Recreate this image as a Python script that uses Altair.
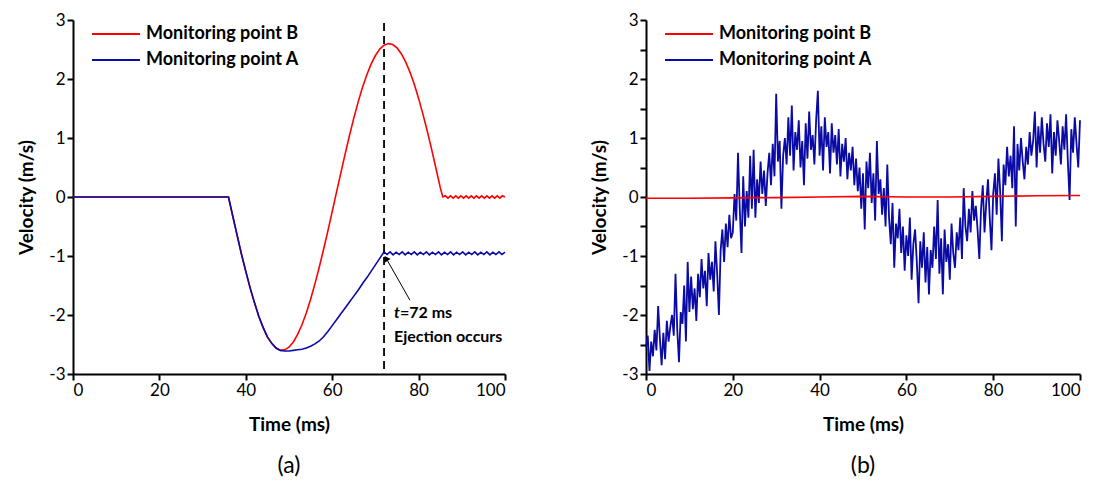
import altair as alt
import pandas as pd

FONT = "Lato"
RED = "#FF0000"
BLUE = "#0A0AA5"
B_NAME = "Monitoring point B"
A_NAME = "Monitoring point A"

# ---------------- panel (a) data ----------------
a_t = [0, 36, 37, 38, 39, 40, 41, 42, 43, 44, 45, 46, 47, 48, 49, 50, 51, 52, 53, 54,
       55, 56, 57, 58, 59, 60, 61, 62, 63, 64, 65, 66, 67, 68, 69, 70, 71, 72]
a_v = [0, 0, -0.33, -0.65, -0.97, -1.26, -1.54, -1.79, -2.02, -2.21, -2.37, -2.48, -2.56, -2.6,
       -2.61, -2.61, -2.60, -2.59, -2.58, -2.56, -2.53, -2.49, -2.44, -2.37, -2.28, -2.18,
       -2.08, -1.98, -1.88, -1.78, -1.68, -1.58, -1.47, -1.37, -1.26, -1.15, -1.04, -0.93]
a_ripple_v = [-0.975, -0.93, -0.98, -0.935, -0.975, -0.93, -0.98, -0.935, -0.975, -0.93,
              -0.98, -0.935, -0.975, -0.93, -0.98, -0.935, -0.975, -0.93, -0.98, -0.935,
              -0.975, -0.93, -0.98, -0.935, -0.975, -0.93, -0.98, -0.935, -0.975, -0.93,
              -0.98, -0.935, -0.975, -0.93, -0.98, -0.935, -0.975, -0.93, -0.975, -0.935]
a_ripple_start, a_ripple_step = 72.0, 0.7

b_t = [0, 36, 37, 38, 39, 40, 41, 42, 43, 44, 45, 46, 47, 48, 49, 50, 51, 52, 53, 54,
       55, 56, 57, 58, 59, 60, 61, 62, 63, 64, 65, 66, 67, 68, 69, 70, 71, 72, 73, 74,
       75, 76, 77, 78, 79, 80, 81, 82, 83, 84, 85, 85.6]
b_v = [0, 0, -0.33, -0.65, -0.97, -1.26, -1.54, -1.79, -2.02, -2.21, -2.37, -2.48, -2.56, -2.6,
       -2.59, -2.545, -2.457, -2.329, -2.166, -1.965, -1.733, -1.473, -1.191, -0.889, -0.573,
       -0.247, 0.082, 0.41, 0.732, 1.042, 1.336, 1.608, 1.855, 2.068, 2.252, 2.398, 2.506,
       2.573, 2.6, 2.584, 2.527, 2.429, 2.291, 2.117, 1.911, 1.671, 1.405, 1.119, 0.812,
       0.492, 0.163, 0.0]
b_ripple_v = [0.02, -0.02, 0.02, -0.02, 0.02, -0.02, 0.02, -0.02, 0.02, -0.02, 0.02, -0.02,
              0.02, -0.02, 0.02, -0.02, 0.02, -0.02, 0.02, -0.02, 0.02, -0.02, 0.02, 0.0]
b_ripple_start, b_ripple_step = 85.6, 0.6

ejection_t = 72
note_line1_t, note_line1_v = 74.3, -1.97
note_line2_t, note_line2_v = 74.3, -2.38
arrow_t = [78.0, 72.5]
arrow_v = [-1.75, -1.04]

# ---------------- panel (b) data ----------------
noise_step = 0.4
noise_v = [
    -2.55, -2.35, -2.95, -2.45, -2.7, -2.25, -2.6, -1.85, -2.4, -2.85,
    -2.3, -2.75, -2.1, -2.45, -2.2, -2.0, -2.35, -1.3, -2.25, -2.8,
    -1.95, -2.15, -1.5, -2.45, -1.1, -1.95, -1.35, -1.9, -1.55, -2.1,
    -1.3, -1.7, -1.05, -1.55, -1.25, -1.85, -0.95, -1.4, -1.1, -1.6,
    -0.75, -1.3, -2.0, -0.9, -0.55, -1.1, -0.45, -0.85, -0.3, -0.7,
    -0.6, 0.05, -0.4, 0.75, -0.2, -0.95, 0.35, -0.5, 0.1, -0.35,
    0.7, -0.2, 0.8, -0.35, 0.3, -0.1, 0.6, 0.05, 0.45, -0.15,
    0.4, 0.75, 0.2, 0.9, 0.35, 1.75, 0.6, 0.95, -0.2, 0.7,
    1.0, 0.55, 1.35, 0.7, 1.55, 0.45, 1.1, 0.8, 1.3, 0.5,
    0.95, 0.2, 1.25, 0.65, 1.45, 0.8, 1.05, 0.55, 1.3, 1.8,
    0.7, 1.2, 0.45, 1.35, 0.85, 1.1, 0.4, 1.25, 0.75, 1.05,
    0.55, 1.15, 0.35, 0.9, 0.6, 1.0, 0.3, 0.75, 0.45, 0.85,
    0.2, 0.65, 0.1, 0.5, -0.2, 0.4, -0.55, 0.6, 0.15, 0.75,
    -0.1, 0.4, -0.4, 0.95, 0.05, 0.3, -0.3, 0.15, -0.5, 0.55,
    -0.35, -0.8, -0.1, -1.2, -0.45, -0.7, -0.2, -0.95, -0.5, -1.25,
    -0.65, -1.0, -0.35, -1.4, -0.8, -0.55, -1.1, -1.8, -0.75, -1.2,
    -0.6, -1.45, -0.85, -1.65, -0.9, -1.2, -0.5, -1.05, -0.05, -1.3,
    -0.7, -1.65, -0.55, -1.1, -0.8, -1.4, -0.45, -0.95, -1.2, -0.6,
    -0.9, -0.35, -1.05, 0.15, -0.5, -0.75, -0.2, -0.6, 0.1, -0.4,
    -0.15, -0.55, -1.05, -0.2, 0.2, -0.6, -0.1, 0.3, -0.35, -0.9,
    0.05, 0.4, -0.3, 0.65, 0.1, -0.75, 0.55, 0.2, 0.85, 0.35,
    0.7, 0.15, 1.2, -0.5, 0.9, 0.45, 1.0, 0.6, 0.3, 0.85,
    0.55, 1.1, 0.7, 0.95, 1.45, 0.5, 1.2, 0.75, 1.35, 0.9,
    0.6, 1.25, 0.85, 1.4, 0.4, 1.1, 0.7, 1.3, 0.95, 0.55,
    1.2, 0.8, 1.4, 0.6, -0.05, 1.15, 0.75, 1.35, 0.9, 0.5,
    1.3]
red_b_t = [0, 10, 20, 30, 40, 50, 60, 70, 80, 90, 100]
red_b_v = [-0.02, -0.02, -0.015, -0.01, 0.0, 0.01, 0.0, 0.0, 0.01, 0.02, 0.025]

x_ticks = [0, 20, 40, 60, 80, 100]
y_ticks = [-3, -2.5, -2, -1.5, -1, -0.5, 0, 0.5, 1, 1.5, 2, 2.5, 3]

# ---------------- tables ----------------
a_full_t = a_t + [round(a_ripple_start + (i + 1) * a_ripple_step, 2) for i in range(len(a_ripple_v))]
a_full_v = a_v + a_ripple_v
b_full_t = b_t + [round(b_ripple_start + (i + 1) * b_ripple_step, 2) for i in range(len(b_ripple_v))]
b_full_v = b_v + b_ripple_v
dfA = pd.DataFrame({"t": a_full_t, "v": a_full_v, "series": A_NAME})
dfB = pd.DataFrame({"t": b_full_t, "v": b_full_v, "series": B_NAME})
dfA2 = pd.DataFrame({"t": [round(i * noise_step, 2) for i in range(len(noise_v))],
                     "v": noise_v, "series": A_NAME})
dfB2 = pd.DataFrame({"t": red_b_t, "v": red_b_v, "series": B_NAME})

W, H = 432, 354

xenc = alt.X("t:Q", scale=alt.Scale(domain=[0, 100], nice=False, zero=False),
             axis=alt.Axis(values=x_ticks, format="d", title="Time (ms)",
                           labelPadding=2, titlePadding=17))
yenc = alt.Y("v:Q", scale=alt.Scale(domain=[-3, 3], nice=False, zero=False),
             axis=alt.Axis(values=y_ticks, title="Velocity (m/s)", labelPadding=2,
                           titlePadding=12,
                           labelExpr="datum.value % 1 === 0 ? (datum.value < 0 ? '-' + abs(datum.value) : '' + datum.value) : ''"))


def color_enc(legend_y):
    return alt.Color("series:N",
                     scale=alt.Scale(domain=[B_NAME, A_NAME], range=[RED, BLUE]),
                     legend=alt.Legend(title=None, orient="none", legendX=27, legendY=legend_y,
                                       symbolType="M-1.6,0L1.6,0", symbolSize=900,
                                       symbolStrokeWidth=1.8,
                                       labelFont=FONT, labelFontSize=18, labelFontWeight="bold",
                                       labelColor="black", labelOffset=14, rowPadding=1,
                                       symbolOffset=0))


def line_layer(df, width, legend_y):
    return alt.Chart(df).mark_line(strokeWidth=width).encode(
        x=xenc, y=yenc, color=color_enc(legend_y), order="t:Q")


# panel (a)
redA = line_layer(dfB, 1.6, -2)
blueA = line_layer(dfA, 1.6, -2)
rule = alt.Chart(pd.DataFrame({"t": [ejection_t], "v": [2.95], "v2": [-3]})).mark_rule(
    color="black", strokeWidth=1.8, strokeDash=[8, 5]).encode(x="t:Q", y="v:Q", y2="v2:Q")
arrow = alt.Chart(pd.DataFrame({"t": arrow_t, "v": arrow_v})).mark_line(
    color="black", strokeWidth=1).encode(x="t:Q", y="v:Q")
head = alt.Chart(pd.DataFrame({"t": [arrow_t[1]], "v": [arrow_v[1]]})).mark_point(
    shape="triangle-up", filled=True, color="black", size=45, angle=328, opacity=1).encode(
    x="t:Q", y="v:Q")
note_t = alt.Chart(pd.DataFrame({"t": [note_line1_t], "v": [note_line1_v]})).mark_text(
    text="t", font=FONT, fontSize=16, fontWeight="bold", fontStyle="italic", align="left",
    baseline="middle", color="black").encode(x="t:Q", y="v:Q")
note_rest = alt.Chart(pd.DataFrame({"t": [note_line1_t], "v": [note_line1_v]})).mark_text(
    text="=72 ms", font=FONT, fontSize=16, fontWeight="bold", align="left", dx=6,
    baseline="middle", color="black").encode(x="t:Q", y="v:Q")
note2 = alt.Chart(pd.DataFrame({"t": [note_line2_t], "v": [note_line2_v]})).mark_text(
    text="Ejection occurs", font=FONT, fontSize=16, fontWeight="bold", align="left",
    baseline="middle", color="black").encode(x="t:Q", y="v:Q")

panel_a = alt.layer(redA, blueA, rule, arrow, head, note_t, note_rest, note2).properties(
    width=W, height=H,
    title=alt.TitleParams("(a)", orient="bottom", font=FONT, fontSize=23, fontWeight="normal",
                          color="black", offset=21))

# panel (b)
blueB = line_layer(dfA2, 1.8, -2)
redB = line_layer(dfB2, 1.6, -2)
panel_b = alt.layer(blueB, redB).properties(
    width=W + 2, height=H,
    title=alt.TitleParams("(b)", orient="bottom", font=FONT, fontSize=23, fontWeight="normal",
                          color="black", offset=21))

chart = alt.hconcat(panel_a, panel_b, spacing=81).resolve_scale(
    color="independent").resolve_legend(color="independent").properties(
    padding={"left": 9, "top": 3, "right": 0, "bottom": 0}
).configure_view(stroke=None).configure_axis(
    domainColor="black", domainWidth=2, tickColor="black", tickWidth=2, tickSize=6,
    labelFont=FONT, labelFontSize=17, labelColor="black", titleFont=FONT, titleFontSize=19,
    titleFontWeight="bold", titleColor="black", grid=False
)

chart.save("out.html", embed_options={"renderer": "svg", "actions": False})
